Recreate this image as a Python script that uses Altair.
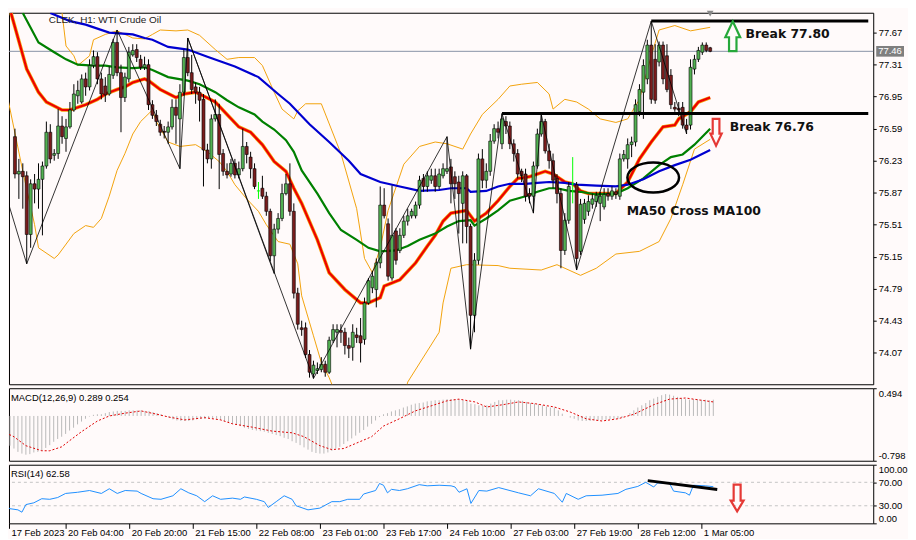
import altair as alt
import pandas as pd

# ---------------- axis content ----------------
tick_bars = [1.75, 16, 32, 48, 64, 80, 96, 112, 128, 144, 160, 176]
tick_labels = ["17 Feb 2023", "20 Feb 04:00", "20 Feb 20:00", "21 Feb 15:00",
               "22 Feb 08:00", "23 Feb 01:00", "23 Feb 17:00", "24 Feb 10:00",
               "27 Feb 03:00", "27 Feb 19:00", "28 Feb 12:00", "1 Mar 05:00"]
price_ticks = [77.67, 77.31, 76.95, 76.59, 76.23, 75.87, 75.51, 75.15, 74.79, 74.43, 74.07]
last_price = 77.46
macd_ticks = [-0.798, 0.494]
rsi_ticks = [0, 30, 70, 100]

# ---------------- H1 candles (bar index starts at 2) ----------------
first_bar = 2
opens = [76.50, 76.08, 76.11, 76.06, 75.40, 75.97, 75.91, 76.02, 76.17, 76.55,
         76.29, 76.31, 76.62, 76.48, 76.61, 76.80, 76.96, 76.89, 77.15, 77.06,
         77.30, 77.40, 77.15, 77.07, 76.98, 77.19, 77.56, 77.22, 76.94, 77.15,
         77.42, 77.48, 77.37, 77.28, 77.31, 76.86, 76.74, 76.64, 76.56, 76.55,
         76.61, 76.83, 76.70, 77.00, 77.39, 77.22, 77.06, 77.00, 76.92, 76.35,
         76.25, 76.70, 76.75, 76.31, 76.11, 76.08, 76.20, 76.07, 76.14, 76.39,
         76.27, 76.14, 75.89, 75.92, 75.83, 75.66, 75.16, 75.46, 75.58, 75.86,
         75.97, 75.66, 74.74, 74.35, 74.35, 74.05, 73.83, 73.87, 73.88, 73.94,
         73.85, 74.21, 74.30, 74.32, 74.30, 74.15, 74.13, 74.27, 74.26, 74.22,
         74.63, 74.80, 74.78, 75.08, 75.73, 75.52, 74.91, 75.44, 75.22, 75.39,
         75.55, 75.61, 75.61, 75.73, 76.03, 75.94, 76.01, 76.06, 75.94, 76.06,
         76.11, 76.16, 76.05, 75.99, 75.75, 76.06, 75.49, 74.49, 75.11, 76.25,
         76.01, 76.11, 76.45, 76.59, 76.42, 76.67, 76.62, 76.42, 76.31, 76.11,
         76.08, 75.86, 75.83, 76.17, 76.53, 76.67, 76.34, 76.23, 76.03, 75.86,
         75.22, 75.56, 75.97, 75.96, 75.21, 75.57, 75.66, 75.74, 75.77, 75.75,
         75.71, 75.86, 75.83, 75.88, 75.83, 76.25, 76.25, 76.41, 76.44, 76.78,
         77.00, 77.15, 77.53, 77.37, 77.34, 77.53, 77.41, 77.19, 76.83, 76.82,
         76.83, 76.63, 76.63, 77.26, 77.37, 77.45, 77.53, 77.50]
highs = [76.59, 76.25, 76.20, 76.11, 76.02, 76.08, 76.20, 76.22, 76.67, 76.64,
         76.36, 76.81, 76.73, 76.70, 76.89, 77.09, 77.13, 77.20, 77.22, 77.37,
         77.47, 77.45, 77.22, 77.17, 77.29, 77.60, 77.70, 77.31, 77.22, 77.51,
         77.54, 77.54, 77.42, 77.40, 77.37, 76.91, 76.80, 76.69, 76.62, 76.67,
         76.92, 76.92, 77.09, 77.48, 77.61, 77.42, 77.11, 77.06, 76.98, 76.42,
         76.75, 76.92, 76.87, 76.36, 76.20, 76.25, 76.25, 76.22, 76.59, 76.44,
         76.33, 76.20, 75.99, 76.06, 75.88, 75.69, 75.52, 75.64, 75.97, 76.08,
         76.20, 75.75, 74.80, 74.43, 74.41, 74.10, 73.98, 73.96, 74.02, 73.98,
         74.25, 74.39, 74.39, 74.39, 74.35, 74.24, 74.39, 74.35, 74.46, 74.69,
         74.91, 74.99, 75.13, 75.94, 75.92, 75.58, 75.95, 75.47, 75.47, 75.61,
         75.69, 75.69, 75.77, 76.06, 76.08, 76.11, 76.14, 76.14, 76.14, 76.20,
         76.50, 76.25, 76.11, 76.06, 76.11, 76.08, 75.52, 75.19, 76.31, 76.36,
         76.20, 76.53, 76.64, 76.67, 76.76, 76.73, 76.67, 76.47, 76.36, 76.14,
         76.14, 75.92, 76.22, 76.59, 76.75, 76.70, 76.42, 76.31, 76.08, 75.92,
         75.64, 75.99, 76.27, 75.99, 75.80, 75.80, 75.84, 75.86, 75.88, 75.88,
         75.92, 75.92, 75.94, 75.92, 76.31, 76.35, 76.48, 76.50, 76.92, 77.09,
         77.37, 77.59, 77.80, 77.54, 77.57, 77.57, 77.54, 77.26, 76.89, 76.89,
         76.89, 76.70, 77.37, 77.42, 77.51, 77.56, 77.56, 77.51]
lows = [76.03, 75.80, 75.69, 75.07, 75.25, 75.75, 75.69, 75.39, 76.14, 76.20,
        76.23, 76.25, 76.42, 76.33, 76.59, 76.78, 76.87, 76.87, 76.96, 77.02,
        77.27, 77.09, 76.92, 76.89, 76.96, 77.15, 77.18, 76.55, 76.89, 77.11,
        77.40, 77.34, 77.25, 77.25, 76.80, 76.70, 76.62, 76.51, 76.48, 76.42,
        76.58, 76.42, 76.14, 76.96, 77.18, 76.98, 76.87, 76.67, 75.94, 76.20,
        76.14, 76.67, 75.91, 76.06, 76.03, 76.05, 76.03, 76.03, 76.11, 76.20,
        76.03, 75.91, 75.80, 75.80, 75.61, 75.10, 74.96, 75.41, 75.55, 75.84,
        75.61, 74.68, 74.33, 74.26, 74.01, 73.79, 73.78, 73.83, 73.85, 73.80,
        73.83, 74.18, 74.13, 74.18, 74.05, 74.01, 73.98, 74.18, 73.96, 74.16,
        74.61, 74.74, 74.58, 75.02, 75.58, 74.88, 74.88, 75.06, 75.19, 75.36,
        75.50, 75.58, 75.58, 75.69, 75.88, 75.88, 75.97, 75.88, 75.91, 76.03,
        76.08, 75.75, 75.80, 75.41, 75.30, 75.30, 74.11, 74.30, 75.06, 75.92,
        75.92, 76.06, 76.42, 76.48, 76.36, 76.53, 76.36, 76.22, 76.03, 75.99,
        75.77, 75.75, 75.64, 76.14, 76.50, 76.31, 76.14, 75.92, 75.75, 75.02,
        75.17, 75.52, 75.75, 75.00, 75.17, 75.52, 75.61, 75.69, 75.71, 75.55,
        75.68, 75.78, 75.79, 75.80, 75.79, 76.22, 76.14, 76.27, 76.39, 76.73,
        76.70, 77.09, 76.87, 76.87, 77.29, 77.09, 77.00, 76.81, 76.78, 76.73,
        76.59, 76.53, 76.58, 77.20, 77.34, 77.42, 77.45, 77.45]
closes = [76.08, 76.11, 76.05, 75.40, 75.97, 75.91, 76.02, 76.17, 76.55, 76.25,
          76.31, 76.62, 76.50, 76.61, 76.80, 76.98, 77.02, 77.15, 77.06, 77.30,
          77.40, 77.15, 76.98, 76.97, 77.20, 77.56, 77.22, 76.94, 77.17, 77.45,
          77.47, 77.39, 77.28, 77.31, 76.86, 76.74, 76.67, 76.55, 76.55, 76.61,
          76.83, 76.74, 77.00, 77.39, 77.22, 77.03, 77.00, 76.91, 76.35, 76.25,
          76.70, 76.75, 76.30, 76.11, 76.07, 76.20, 76.07, 76.14, 76.39, 76.30,
          76.14, 75.94, 75.89, 75.83, 75.66, 75.16, 75.46, 75.58, 75.86, 75.97,
          75.66, 74.74, 74.39, 74.33, 74.05, 73.85, 73.93, 73.89, 73.94, 73.85,
          74.21, 74.33, 74.33, 74.30, 74.15, 74.12, 74.30, 74.24, 74.18, 74.63,
          74.88, 74.93, 75.08, 75.73, 75.61, 74.93, 75.39, 75.11, 75.39, 75.55,
          75.61, 75.66, 75.73, 76.01, 75.94, 76.06, 76.06, 75.94, 76.08, 76.14,
          76.14, 75.97, 75.97, 75.86, 76.06, 75.49, 74.49, 75.11, 76.25, 76.01,
          76.11, 76.45, 76.59, 76.55, 76.70, 76.62, 76.42, 76.31, 76.08, 76.06,
          75.83, 75.83, 76.17, 76.53, 76.67, 76.34, 76.23, 76.01, 75.86, 75.22,
          75.56, 75.94, 75.97, 75.13, 75.74, 75.75, 75.77, 75.80, 75.84, 75.83,
          75.85, 75.83, 75.89, 75.85, 76.25, 76.30, 76.41, 76.44, 76.86, 77.03,
          77.30, 77.53, 76.92, 76.91, 77.53, 77.15, 77.03, 76.86, 76.81, 76.80,
          76.63, 76.58, 77.28, 77.37, 77.47, 77.53, 77.47, 77.46]

# ---------------- moving averages (read at sample bars) ----------------
ma_red_i = [1, 5, 8, 10, 14, 16, 20, 23, 25, 28, 30, 32, 35, 36, 39, 43, 45, 48, 49, 53,
            56, 59, 62, 65, 68, 71, 73, 75, 79, 82, 86, 90, 92, 95, 96, 100, 104, 107, 109, 111,
            113, 117, 119, 122, 125, 128, 130, 133, 137, 139, 142, 144, 146, 148, 151, 155, 158, 161, 164, 167,
            170, 171, 174, 176, 179]
ma_red_p = [77.89, 77.26, 77.00, 76.89, 76.80, 76.80, 76.86, 76.92, 76.98, 77.03, 77.06, 77.11, 77.15, 77.13, 77.03, 76.94, 76.98, 77.00, 76.98, 76.89,
            76.75, 76.61, 76.55, 76.41, 76.22, 76.11, 75.92, 75.75, 75.34, 74.97, 74.78, 74.63, 74.63, 74.69, 74.82, 74.89, 75.08, 75.27, 75.39, 75.55,
            75.64, 75.67, 75.55, 75.64, 75.78, 75.94, 76.03, 76.05, 76.11, 76.08, 75.99, 75.97, 75.89, 75.86, 75.86, 75.86, 75.99, 76.25, 76.44, 76.61,
            76.63, 76.70, 76.78, 76.89, 76.94]
ma_green_i = [4, 8, 12, 15, 18, 22, 25, 28, 32, 35, 37, 41, 46, 49, 53, 56, 59, 63, 65, 68,
              71, 73, 75, 79, 82, 85, 89, 92, 95, 99, 102, 105, 109, 112, 115, 118, 119, 122, 125, 128,
              132, 135, 138, 140, 143, 146, 150, 155, 158, 162, 166, 169, 172, 175, 179]
ma_green_p = [77.89, 77.56, 77.45, 77.37, 77.31, 77.30, 77.30, 77.28, 77.27, 77.28, 77.25, 77.17, 77.13, 77.09, 77.00, 76.91, 76.83, 76.75, 76.67, 76.58,
              76.46, 76.33, 76.12, 75.86, 75.64, 75.45, 75.34, 75.25, 75.21, 75.22, 75.27, 75.34, 75.41, 75.49, 75.55, 75.56, 75.50, 75.58, 75.67, 75.78,
              75.83, 75.88, 75.92, 75.92, 75.89, 75.88, 75.85, 75.86, 75.92, 76.03, 76.18, 76.27, 76.30, 76.41, 76.59]
ma_blue_i = [11, 16, 20, 26, 32, 35, 37, 41, 46, 51, 58, 64, 69, 72, 77, 82, 87, 90, 95, 100,
             105, 110, 113, 117, 118, 122, 125, 128, 132, 135, 138, 142, 145, 150, 155, 158, 162, 166, 170, 174, 179]
ma_blue_p = [77.89, 77.80, 77.76, 77.67, 77.65, 77.61, 77.59, 77.51, 77.48, 77.40, 77.29, 77.17, 76.98, 76.87, 76.64, 76.44, 76.23, 76.08, 75.99, 75.94,
             75.89, 75.90, 75.92, 75.92, 75.88, 75.89, 75.94, 75.97, 75.97, 75.98, 75.99, 75.98, 75.96, 75.95, 75.94, 75.96, 76.02, 76.11, 76.18, 76.24, 76.35]

# ---------------- Bollinger bands ----------------
bb_up_i = [14, 15, 17, 18, 21, 22, 25, 28, 32, 35, 37, 39, 43, 46, 49, 53, 56, 59, 63, 65,
           68, 70, 73, 74, 76, 80, 85, 89, 91, 93, 95, 97, 101, 105, 109, 112, 116, 118, 121, 125,
           128, 131, 135, 138, 139, 142, 145, 148, 151, 155, 158, 161, 164, 166, 170, 174, 179]
bb_up_p = [77.89, 77.52, 77.41, 77.30, 77.41, 77.59, 77.65, 77.69, 77.61, 77.60, 77.65, 77.70, 77.69, 77.70, 77.64, 77.48, 77.37, 77.39, 77.39, 77.30,
           77.00, 76.81, 76.70, 76.79, 76.87, 76.87, 76.31, 75.69, 75.13, 74.97, 75.25, 75.67, 76.19, 76.39, 76.44, 76.42, 76.36, 76.53, 76.75, 76.92,
           77.07, 77.09, 77.11, 76.98, 76.81, 76.92, 76.89, 76.81, 76.70, 76.66, 76.70, 76.92, 77.41, 77.70, 77.75, 77.69, 77.73]
bb_lo_i = [0, 4, 7, 8, 12, 13, 17, 20, 22, 24, 26, 28, 30, 32, 34, 37, 38, 41, 44, 48,
           51, 54, 56, 58, 61, 64, 66, 69, 72, 74, 75, 78, 80, 82, 84, 90, 97, 101, 102, 110,
           111, 113, 117, 125, 128, 136, 140, 146, 150, 155, 161, 166, 169, 172, 175, 179]
bb_lo_p = [76.97, 76.11, 75.51, 75.25, 75.13, 75.17, 75.41, 75.50, 75.48, 75.58, 75.83, 76.12, 76.31, 76.53, 76.67, 76.80, 76.67, 76.44, 76.39, 76.41,
           76.33, 76.22, 76.11, 75.96, 75.80, 75.66, 75.51, 75.32, 75.29, 75.07, 74.71, 74.26, 73.96, 73.79, 73.57, 73.30, 73.25, 73.57, 73.74, 74.30,
           74.63, 75.02, 75.06, 75.05, 75.02, 75.00, 75.06, 74.94, 75.02, 75.18, 75.21, 75.32, 75.58, 75.96, 76.36, 76.47]

# ---------------- ZigZag ----------------
zz_i = [0, 5, 28, 44, 46, 78, 112, 118, 126, 134, 136, 145, 164, 173]
zz_p = [75.80, 75.07, 77.70, 76.14, 77.61, 73.78, 76.50, 74.11, 76.76, 75.64, 76.75, 75.00, 77.80, 76.53]
zz2_i = [46, 68]
zz2_p = [77.61, 74.96]

# ---------------- annotations ----------------
break_levels = [77.80, 76.76]
break_start = [164, 126]
break_text = ["Break 77.80", "Break 76.76"]
break_text_i = [188, 184]
break_text_p = [77.65, 76.61]
cross_text = "MA50 Cross MA100"
cross_text_i, cross_text_p = 157.75, 75.66
ellipse_i, ellipse_p = 164.5, 76.04
up_arrow_i, up_arrow_p = 184.75, 77.63
down_arrow_i, down_arrow_p = 180.5, 76.55

# ---------------- MACD(12,26,9) ----------------
macd_hist = [-0.53, -0.58, -0.64, -0.67, -0.69, -0.68, -0.65, -0.64, -0.62, -0.57,
             -0.52, -0.46, -0.41, -0.37, -0.32, -0.26, -0.21, -0.15, -0.10, -0.05,
             -0.01, 0.02, 0.03, 0.03, 0.05, 0.07, 0.08, 0.09, 0.09, 0.09,
             0.10, 0.10, 0.10, 0.10, 0.09, 0.09, 0.07, 0.05, 0.03, 0.00,
             -0.03, -0.06, -0.08, -0.09, -0.09, -0.09, -0.08, -0.06, -0.05, -0.05,
             -0.04, -0.04, -0.05, -0.07, -0.09, -0.12, -0.14, -0.16, -0.18, -0.21,
             -0.23, -0.25, -0.26, -0.27, -0.28, -0.30, -0.32, -0.34, -0.36, -0.39,
             -0.41, -0.45, -0.48, -0.52, -0.56, -0.60, -0.64, -0.66, -0.67, -0.67,
             -0.65, -0.62, -0.58, -0.55, -0.50, -0.45, -0.40, -0.35, -0.30, -0.25,
             -0.19, -0.14, -0.08, -0.02, 0.03, 0.05, 0.08, 0.10, 0.12, 0.15,
             0.17, 0.20, 0.22, 0.23, 0.24, 0.26, 0.27, 0.28, 0.28, 0.29,
             0.30, 0.30, 0.30, 0.30, 0.28, 0.27, 0.22, 0.21, 0.19, 0.18,
             0.19, 0.22, 0.25, 0.28, 0.28, 0.29, 0.29, 0.28, 0.28, 0.27,
             0.25, 0.23, 0.22, 0.21, 0.19, 0.17, 0.15, 0.15, 0.10, 0.04,
             0.00, -0.03, -0.05, -0.08, -0.09, -0.09, -0.09, -0.08, -0.08, -0.07,
             -0.07, -0.06, -0.06, -0.05, -0.03, 0.00, 0.05, 0.10, 0.15, 0.19,
             0.23, 0.28, 0.31, 0.34, 0.37, 0.39, 0.38, 0.36, 0.34, 0.32,
             0.30, 0.29, 0.30, 0.30, 0.29, 0.29, 0.28, 0.29]
macd_sig_i = [0, 3, 6, 10, 12, 15, 17, 20, 24, 27, 31, 35, 39, 42, 46, 51, 55, 58, 63, 68,
              73, 76, 80, 83, 86, 90, 93, 96, 100, 104, 108, 112, 115, 119, 122, 126, 130, 134, 139, 143,
              147, 151, 155, 159, 164, 168, 172, 176, 179]
macd_sig_v = [-0.27, -0.37, -0.53, -0.62, -0.62, -0.55, -0.44, -0.28, -0.09, 0.00, 0.05, 0.09, 0.03, -0.02, -0.07, -0.03, -0.07, -0.14, -0.20, -0.27,
              -0.30, -0.37, -0.53, -0.60, -0.58, -0.46, -0.37, -0.18, -0.05, 0.09, 0.18, 0.27, 0.30, 0.25, 0.16, 0.20, 0.25, 0.22, 0.16, 0.07,
              -0.05, -0.09, -0.05, 0.03, 0.20, 0.30, 0.32, 0.28, 0.25]

# ---------------- RSI(14) ----------------
rsi_i = [0, 2, 4, 5, 6, 8, 10, 12, 14, 16, 19, 22, 25, 27, 29, 31, 34, 35, 38, 40,
         43, 45, 47, 49, 51, 53, 55, 58, 60, 61, 64, 66, 67, 69, 71, 73, 74, 77, 80, 83,
         85, 87, 90, 91, 94, 95, 96, 97, 98, 100, 102, 105, 107, 110, 113, 114, 115, 117, 118, 120,
         122, 125, 130, 133, 135, 139, 141, 142, 145, 147, 151, 155, 157, 160, 162, 164, 165, 168, 169, 172,
         173, 174, 177, 179]
rsi_v = [33, 25, 23, 19, 32, 35, 42, 41, 44, 51, 53, 56, 51, 59, 51, 56, 55, 51, 42, 41,
         47, 59, 52, 47, 37, 47, 41, 43, 41, 45, 41, 37, 27, 37, 47, 41, 30, 23, 26, 37,
         37, 41, 41, 50, 56, 68, 65, 52, 58, 56, 59, 66, 64, 65, 64, 62, 53, 59, 34, 56,
         55, 61, 52, 47, 59, 51, 36, 51, 41, 47, 48, 51, 58, 63, 70, 62, 69, 68, 55, 52,
         48, 65, 64, 62.58]
rsi_levels = [70, 30]
rsi_trend_i = [162.5, 180]
rsi_trend_v = [72.9, 57.6]
rsi_arrow_i, rsi_arrow_v = 185, 43.2

# =====================================================================
W = 870
X_DOMAIN = [1.75, 219.25]
xs = alt.Scale(domain=X_DOMAIN, nice=False, zero=False)
ys = alt.Scale(domain=[73.715, 77.894], nice=False, zero=False)
ms = alt.Scale(domain=[macd_ticks[0], macd_ticks[1]], nice=False, zero=False)
rs = alt.Scale(domain=[0, 100], nice=False, zero=False)
AX_FONT = "Liberation Sans"
ANN_FONT = "DejaVu Sans"

UP_ARROW = "M -0.25 1 L -0.25 0.07 L -0.5 0.07 L 0 -1 L 0.5 0.07 L 0.25 0.07 L 0.25 1 Z"
DOWN_ARROW = "M -0.25 -1 L -0.25 0.11 L -0.42 0.11 L 0 1 L 0.42 0.11 L 0.25 0.11 L 0.25 -1 Z"
DOWN_ARROW2 = "M -0.26 -1 L -0.26 0.19 L -0.48 0.19 L 0 1 L 0.48 0.19 L 0.26 0.19 L 0.26 -1 Z"
ELLIPSE = "M -1 0 A 1 0.58 0 1 0 1 0 A 1 0.58 0 1 0 -1 0 Z"

# axes (the same axis object is given to every layer sharing a scale)
price_axis = alt.Axis(orient="right", values=price_ticks, format=".2f", title=None,
                      tickSize=3, labelPadding=2, domain=False, grid=False)
macd_axis = alt.Axis(orient="right", values=macd_ticks, title=None, tickSize=3, labelPadding=2,
                     domain=False, grid=False, labelFlush=True,
                     labelExpr="replace(format(datum.value, '.3f'), '\u2212', '-')")
rsi_axis = alt.Axis(orient="right", values=rsi_ticks, format=".2f", title=None, tickSize=3,
                    labelPadding=2, domain=False, grid=False, labelFlush=True)
label_expr = "[" + ",".join(f"'{t}'" for t in tick_labels) + "][floor(datum.value / 16)]"
time_axis = alt.Axis(values=tick_bars, labelExpr=label_expr, labelAlign="left", labelBaseline="top",
                     tickSize=5, labelPadding=-1, labelOffset=2, domain=False, grid=False, title=None,
                     labelFlush=False, labelOverlap=False)


def X(f="i"):
    return alt.X(f"{f}:Q", scale=xs, axis=None)


def XT(f="i"):
    return alt.X(f"{f}:Q", scale=xs, axis=time_axis)


def YP(f="p"):
    return alt.Y(f"{f}:Q", scale=ys, axis=price_axis)


def YM(f="v"):
    return alt.Y(f"{f}:Q", scale=ms, axis=macd_axis)


def YR(f="v"):
    return alt.Y(f"{f}:Q", scale=rs, axis=rsi_axis)


def line_df(ii, pp):
    return pd.DataFrame({"i": ii, "p": pp})


# ---- candles dataframe
bars = list(range(first_bar, first_bar + len(opens)))
cd = pd.DataFrame({"i": bars, "o": opens, "h": highs, "l": lows, "c": closes})
kinds = ["doji" if o == c else ("up" if c > o else "down") for o, c in zip(opens, closes)]
cd["fillc"] = [{"up": "#52b152", "down": "#7a1c1c", "doji": "#00ff00"}[k] for k in kinds]
cd["edgec"] = [{"up": "#000000", "down": "#000000", "doji": "#00ff00"}[k] for k in kinds]

price_line = alt.Chart(pd.DataFrame({"p": [last_price]})).mark_rule(
    color="#8792a6", strokeWidth=1).encode(y=YP())

band_up = alt.Chart(line_df(bb_up_i, bb_up_p)).mark_line(
    color="#f2a20c", strokeWidth=1, clip=True).encode(x=X(), y=YP())
band_lo = alt.Chart(line_df(bb_lo_i, bb_lo_p)).mark_line(
    color="#f2a20c", strokeWidth=1, clip=True).encode(x=X(), y=YP())
band_mid = alt.Chart(line_df(ma_red_i, ma_red_p)).mark_line(
    color="#f2a20c", strokeWidth=3.6, clip=True).encode(x=X(), y=YP())
ma_red = alt.Chart(line_df(ma_red_i, ma_red_p)).mark_line(
    color="#ee0000", strokeWidth=2.2, clip=True).encode(x=X(), y=YP())
ma_green = alt.Chart(line_df(ma_green_i, ma_green_p)).mark_line(
    color="#008000", strokeWidth=2.2, clip=True).encode(x=X(), y=YP())
ma_blue = alt.Chart(line_df(ma_blue_i, ma_blue_p)).mark_line(
    color="#0000d0", strokeWidth=2.2, clip=True).encode(x=X(), y=YP())

wicks = alt.Chart(cd).mark_rule(strokeWidth=1, clip=True).encode(
    x=X(), y=YP("l"), y2="h:Q", color=alt.Color("edgec:N", scale=None))
bodies = alt.Chart(cd).mark_bar(width=3, strokeWidth=0.6, clip=True).encode(
    x=X(), y=YP("o"), y2="c:Q",
    fill=alt.Fill("fillc:N", scale=None), stroke=alt.Stroke("edgec:N", scale=None))

zz_df = pd.concat([line_df(zz_i, zz_p).assign(seg="a"), line_df(zz2_i, zz2_p).assign(seg="b")])
zigzag = alt.Chart(zz_df).mark_line(color="black", strokeWidth=0.8, clip=True).encode(
    x=X(), y=YP(), detail="seg:N")

brk = pd.DataFrame({"i": break_start, "i2": [X_DOMAIN[1]] * len(break_start), "p": break_levels})
break_lines = alt.Chart(brk).mark_rule(color="black", strokeWidth=3).encode(
    x=X(), x2="i2:Q", y=YP())

ell = alt.Chart(line_df([ellipse_i], [ellipse_p])).mark_point(
    shape=ELLIPSE, size=2704, filled=False, stroke="black", strokeWidth=2.5, opacity=1).encode(x=X(), y=YP())
arr_up = alt.Chart(line_df([up_arrow_i], [up_arrow_p])).mark_point(
    shape=UP_ARROW, size=900, filled=False, stroke="#26a83a", strokeWidth=2.2, opacity=1).encode(x=X(), y=YP())
arr_dn = alt.Chart(line_df([down_arrow_i], [down_arrow_p])).mark_point(
    shape=DOWN_ARROW, size=729, filled=False, stroke="#e53935", strokeWidth=2.2, opacity=1).encode(x=X(), y=YP())

ann_df = pd.DataFrame({"i": break_text_i + [cross_text_i], "p": break_text_p + [cross_text_p],
                       "t": break_text + [cross_text]})
ann_text = alt.Chart(ann_df).mark_text(
    align="left", baseline="middle", font=ANN_FONT, fontWeight="bold", fontSize=12.5, color="#111111"
).encode(x=X(), y=YP(), text="t:N")

box = alt.Chart(pd.DataFrame({"a": [last_price + 0.06], "b": [last_price - 0.06]})).mark_rect(
    color="#7f7f7f").encode(x=alt.value(873), x2=alt.value(901), y=YP("a"), y2="b:Q")
box_text = alt.Chart(pd.DataFrame({"p": [last_price], "t": [f"{last_price:.2f}"]})).mark_text(
    align="left", baseline="middle", font=AX_FONT, fontSize=9.5, color="white").encode(
    x=alt.value(875), y=YP(), text="t:N")

title_txt = alt.Chart(pd.DataFrame({"t": ["CLEK, H1:  WTI Crude Oil"]})).mark_text(
    align="left", baseline="middle", font=AX_FONT, fontSize=10, color="#222222").encode(
    x=alt.value(40), y=alt.value(7), text="t:N")
shift_mark = alt.Chart(pd.DataFrame({"i": [bars[-1]]})).mark_point(
    shape="triangle-down", size=45, filled=True, color="#888888", opacity=1).encode(
    x=X(), y=alt.value(1))

main = alt.layer(price_line, band_up, band_lo, band_mid, ma_red, ma_green, ma_blue,
                 wicks, bodies, zigzag, break_lines, ell, arr_up, arr_dn, ann_text,
                 box, box_text, title_txt, shift_mark).properties(width=W, height=374)

# ---- MACD panel
hist_df = pd.DataFrame({"i": bars, "v": macd_hist})
macd_hist_ch = alt.Chart(hist_df).mark_rule(color="#b9b9b9", strokeWidth=1).encode(
    x=X(), y=YM(), y2=alt.datum(0))
macd_sig_ch = alt.Chart(pd.DataFrame({"i": macd_sig_i, "v": macd_sig_v})).mark_line(
    color="#e00000", strokeWidth=1, strokeDash=[2, 2], clip=True).encode(x=X(), y=YM())
macd_txt = alt.Chart(pd.DataFrame({"t": ["MACD(12,26,9) 0.289 0.254"]})).mark_text(
    align="left", baseline="middle", font=AX_FONT, fontSize=9.5, color="black").encode(
    x=alt.value(2), y=alt.value(10), text="t:N")
macd = alt.layer(macd_hist_ch, macd_sig_ch, macd_txt).properties(width=W, height=73)

# ---- RSI panel
rsi_lv = alt.Chart(pd.DataFrame({"v": rsi_levels})).mark_rule(
    color="#c4c4c4", strokeWidth=1, strokeDash=[3, 3]).encode(y=YR())
rsi_line = alt.Chart(pd.DataFrame({"i": rsi_i, "v": rsi_v})).mark_line(
    color="#1e8fff", strokeWidth=1, clip=True).encode(x=XT(), y=YR())
rsi_tl = alt.Chart(pd.DataFrame({"i": rsi_trend_i, "v": rsi_trend_v})).mark_line(
    color="black", strokeWidth=3).encode(x=XT(), y=YR())
rsi_arr = alt.Chart(pd.DataFrame({"i": [rsi_arrow_i], "v": [rsi_arrow_v]})).mark_point(
    shape=DOWN_ARROW2, size=729, filled=False, stroke="#e53935", strokeWidth=2.2, opacity=1).encode(
    x=XT(), y=YR())
rsi_txt = alt.Chart(pd.DataFrame({"t": ["RSI(14) 62.58"]})).mark_text(
    align="left", baseline="middle", font=AX_FONT, fontSize=9.5, color="black").encode(
    x=alt.value(2), y=alt.value(9), text="t:N")
rsi = alt.layer(rsi_lv, rsi_line, rsi_tl, rsi_arr, rsi_txt).properties(width=W, height=59)

chart = alt.vconcat(main, macd, rsi, spacing=2, padding=0, background="#fffafa").configure_view(
    stroke="black", strokeWidth=1, fill="#fffafa"
).configure_axis(
    labelFont=AX_FONT, labelFontSize=9.5, labelColor="black", tickColor="black"
)

chart.save("out.html", embed_options={"renderer": "svg", "actions": False})
